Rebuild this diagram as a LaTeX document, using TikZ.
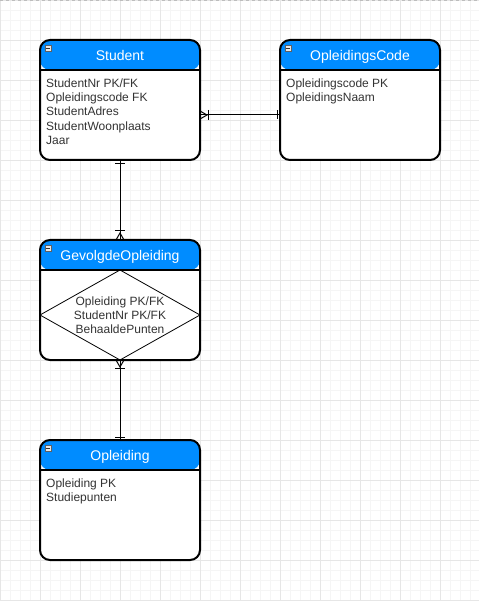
\documentclass[tikz,border=0pt]{standalone}
\usepackage{fontspec}
\setmainfont{Liberation Sans}
\usetikzlibrary{shapes.geometric,calc}

\definecolor{hdr}{HTML}{008CFF}
\definecolor{txt}{HTML}{333333}
\definecolor{gridminor}{HTML}{F5F5F5}
\definecolor{gridmajor}{HTML}{E6E6E6}
\definecolor{pagedash}{HTML}{BDBDBD}

\tikzset{
  entity/.style={draw=black, line width=2pt, rounded corners=10pt, fill=white,
    minimum width=160pt, minimum height=120pt, inner sep=0pt, outer sep=0pt,
    path picture={
      \fill[hdr] (path picture bounding box.north west) rectangle
                 ([yshift=-30pt]path picture bounding box.north east);
      \draw[line width=2pt] ([yshift=-30pt]path picture bounding box.north west) --
                 ([yshift=-30pt]path picture bounding box.north east);}},
  title/.style={anchor=base, text=white, inner sep=0pt,
    font=\fontsize{14}{16}\selectfont},
  % multi-line nodes: the base anchor sits on the last line
  fields/.style={anchor=base west, text=txt, inner sep=0pt, align=left,
    font=\fontsize{12}{14.2}\selectfont},
  relfields/.style={text=txt, inner sep=0pt, align=center,
    font=\fontsize{12}{14.2}\selectfont},
  collapse/.style={draw=gray!75!black, fill=gray!18, line width=0.6pt,
    minimum size=6pt, inner sep=0pt, outer sep=0pt,
    path picture={\draw[line width=0.9pt, black!80]
      ([xshift=1.4pt]path picture bounding box.west) --
      ([xshift=-1.4pt]path picture bounding box.east);}},
  conn/.style={draw=black, line width=1pt},
  relshape/.style={diamond, draw=black, line width=0.8pt,
    minimum width=160pt, minimum height=90pt, inner sep=0pt, outer sep=0pt},
}

\begin{document}
\begin{tikzpicture}[x=1pt, y=-1pt]
  \useasboundingbox (0,0) rectangle (479,601);
  \fill[white] (0,0) rectangle (479,601);

  % background grid
  \foreach \x in {0,10,...,470} \draw[gridminor, line width=1pt] (\x+0.5,0) -- (\x+0.5,601);
  \foreach \y in {0,10,...,600} \draw[gridminor, line width=1pt] (0,\y+0.5) -- (479,\y+0.5);
  \foreach \x in {0,40,...,440} \draw[gridmajor, line width=1pt] (\x+0.5,0) -- (\x+0.5,601);
  \foreach \y in {0,40,...,600} \draw[gridmajor, line width=1pt] (0,\y+0.5) -- (479,\y+0.5);
  \draw[pagedash, line width=1pt, dash pattern=on 3pt off 3pt] (0,0.5) -- (479,0.5);

  % entities
  \node[entity] (student) at (120,100) {};
  \node[entity] (code)    at (360,100) {};
  \node[entity] (gev)     at (120,300) {};
  \node[entity] (opl)     at (120,500) {};

  % relationship diamond inside GevolgdeOpleiding
  \node[relshape] (rel) at (120,315) {};

  % collapse icons
  \foreach \e in {student,code,gev,opl}
    \node[collapse] (icon-\e) at ($(\e.north west)+(8,8)$) {};

  % titles
  \node[title] (t-student) at (120,60.5) {Student};
  \node[title] (t-code)    at (360,60.5) {OpleidingsCode};
  \node[title] (t-gev)     at (120,260.5) {GevolgdeOpleiding};
  \node[title] (t-opl)     at (120,460.5) {Opleiding};

  % attribute lists (positioned by the baseline of their last line)
  \node[fields] (f-student) at (46,144.3)
    {StudentNr PK/FK\\Opleidingscode FK\\StudentAdres\\StudentWoonplaats\\Jaar};
  \node[fields] (f-code) at (286,101.7) {Opleidingscode PK\\OpleidingsNaam};
  \node[relfields] (f-gev) at (rel.center) {Opleiding PK/FK\\StudentNr PK/FK\\BehaaldePunten};
  \node[fields] (f-opl) at (46,501.7) {Opleiding PK\\Studiepunten};

  % Student -- GevolgdeOpleiding (one to many)
  \draw[conn] (student.south) -- (gev.north);
  \draw[conn] ($(student.south)+(-5,4)$) -- ($(student.south)+(5,4)$);
  \draw[conn] ($(gev.north)+(-4,0)$) -- ($(gev.north)+(0,-7)$) -- ($(gev.north)+(4,0)$);
  \draw[conn] ($(gev.north)+(-5,-9)$) -- ($(gev.north)+(5,-9)$);

  % Student -- OpleidingsCode (many to one)
  \coordinate (sc-a) at ($(student.east)+(0,15)$);
  \coordinate (sc-b) at ($(code.west)+(0,15)$);
  \draw[conn] (sc-a) -- (sc-b);
  \draw[conn] ($(sc-a)+(0,-4)$) -- ($(sc-a)+(7,0)$) -- ($(sc-a)+(0,4)$);
  \draw[conn] ($(sc-a)+(8,-5)$) -- ($(sc-a)+(8,5)$);
  \draw[conn] ($(sc-b)+(-3,-4.5)$) -- ($(sc-b)+(-3,4.5)$);

  % GevolgdeOpleiding -- Opleiding (many to one)
  \draw[conn] (gev.south) -- (opl.north);
  \draw[conn] ($(gev.south)+(-4,0)$) -- ($(gev.south)+(0,7)$) -- ($(gev.south)+(4,0)$);
  \draw[conn] ($(gev.south)+(-5,8)$) -- ($(gev.south)+(5,8)$);
  \draw[conn] ($(opl.north)+(-5,-3)$) -- ($(opl.north)+(5,-3)$);
\end{tikzpicture}
\end{document}
